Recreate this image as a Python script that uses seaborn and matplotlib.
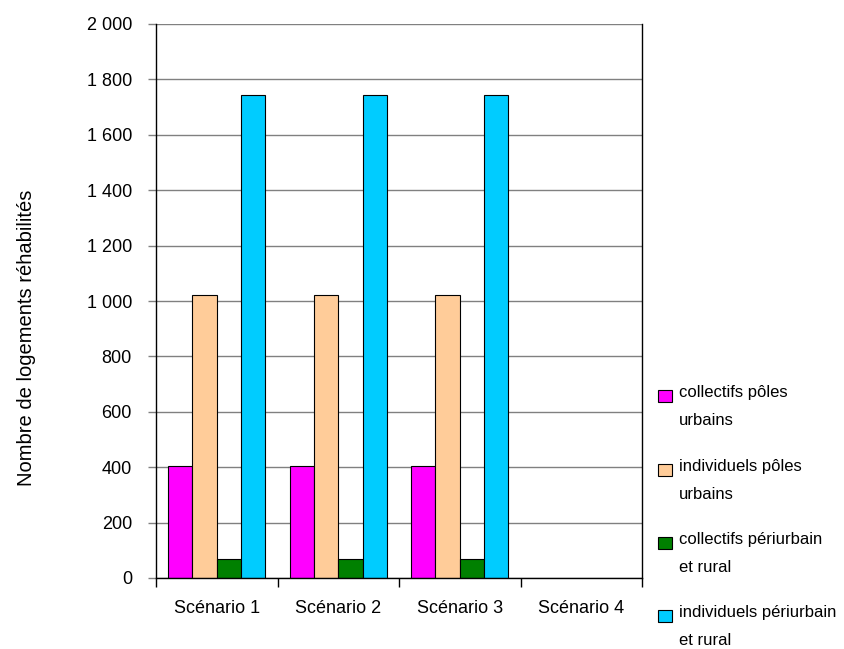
import numpy as np
import pandas as pd
import matplotlib
matplotlib.use("Agg")
import matplotlib.pyplot as plt
from matplotlib.patches import Rectangle
from matplotlib.ticker import FuncFormatter, FixedLocator
import seaborn as sns

scenarios = ["Scénario 1", "Scénario 2", "Scénario 3", "Scénario 4"]
series = ["collectifs pôles urbains", "individuels pôles urbains",
          "collectifs périurbain et rural", "individuels périurbain et rural"]
legend_labels = ["collectifs pôles\nurbains", "individuels pôles\nurbains",
                 "collectifs périurbain\net rural", "individuels périurbain\net rural"]
collectifs_poles = [405, 405, 405, np.nan]
individuels_poles = [1022, 1022, 1022, np.nan]
collectifs_peri = [69, 69, 69, np.nan]
individuels_peri = [1744, 1744, 1744, np.nan]
colors = ["#FF00FF", "#FFCC99", "#008000", "#00CCFF"]

sns.set_theme(style="white")
plt.rcParams["font.family"] = ["Liberation Sans", "DejaVu Sans"]
plt.rcParams["text.color"] = "black"

rows = []
for name, vals in zip(series, [collectifs_poles, individuels_poles,
                               collectifs_peri, individuels_peri]):
    for sc, v in zip(scenarios, vals):
        rows.append({"scenario": sc, "serie": name, "valeur": v})
df = pd.DataFrame(rows)

fig = plt.figure(figsize=(8.45, 6.49), dpi=100)
ax = fig.add_axes([156 / 845, 1 - 578 / 649, (642 - 156) / 845, (578 - 24) / 649])

sns.barplot(data=df, x="scenario", y="valeur", hue="serie", order=scenarios,
            hue_order=series, palette=colors, width=0.8, gap=0,
            edgecolor="black", linewidth=0.8, saturation=1, ax=ax, legend=False)

ax.set_xlim(-0.5, 3.5)
ax.set_ylim(0, 2000)
ax.yaxis.set_major_locator(FixedLocator(np.arange(0, 2001, 200)))
ax.yaxis.set_major_formatter(FuncFormatter(lambda v, p: f"{int(v):,}".replace(",", " ")))
ax.grid(axis="y", color="#808080", linewidth=1)
ax.set_axisbelow(True)
for side in ["left", "bottom", "right"]:
    ax.spines[side].set_visible(True)
    ax.spines[side].set_color("black")
    ax.spines[side].set_linewidth(1)
ax.spines["top"].set_visible(False)

ax.tick_params(axis="y", which="major", left=True, length=5.8, width=1,
               color="#808080", pad=11.5, labelsize=13, labelcolor="black")
ax.set_xticks(range(4))
ax.set_xticklabels(scenarios)
ax.set_xticks(np.arange(-0.5, 4.0, 1.0), minor=True)
ax.tick_params(axis="x", which="major", bottom=False, length=0, pad=15.5,
               labelsize=13, labelcolor="black")
ax.tick_params(axis="x", which="minor", bottom=True, length=6.5, width=1, color="black")
ax.set_xlabel("")
ax.set_ylabel("")

fig.text(27 / 845, 1 - 338 / 649, "Nombre de logements réhabilités", rotation=90,
         ha="center", va="center", fontsize=14.5, color="black")

# legend drawn to the right of the plot area
text_y = [391, 465, 538, 611]
for lab, col, ty in zip(legend_labels, colors, text_y):
    fig.patches.append(Rectangle((658 / 845, 1 - (ty + 11) / 649),
                                 14 / 845, 12 / 649, transform=fig.transFigure,
                                 facecolor=col, edgecolor="black", linewidth=0.8))
    fig.text(679 / 845, 1 - (ty - 6) / 649, lab, ha="left", va="top", fontsize=12,
             linespacing=2.1, color="black", transform=fig.transFigure)

fig.savefig("out.png", dpi=100)
